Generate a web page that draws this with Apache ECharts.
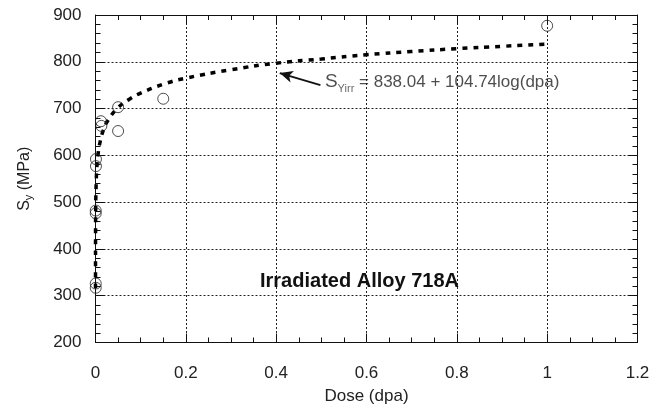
<!DOCTYPE html>
<html>
<head>
<meta charset="utf-8">
<script src="https://cdn.jsdelivr.net/npm/echarts@6/dist/echarts.min.js"></script>
<style>
  html, body { margin: 0; padding: 0; background: #fff; }
  #chart { width: 664px; height: 406px; }
</style>
</head>
<body>
<div id="chart"></div>
<script>
// measured points, Sy (MPa) against dose (dpa)
var doseData = [1.0, 0.15, 0.05, 0.05, 0.012, 0.013, 0.001, 0.001, 0.0005, 0.0005, 0.0005, 0.0005];
var syData = [877, 721, 703, 652, 673, 663, 592, 577, 482, 476, 326, 317];

// dotted fit curve
var doseFit = [0.00001, 0.00003, 0.0001, 0.0003, 0.001, 0.003, 0.006, 0.01, 0.017, 0.027,
  0.05, 0.075, 0.1, 0.15, 0.2, 0.3, 0.4, 0.5, 0.6, 0.7, 0.8, 0.9, 1.0];
var syFit = [316, 364, 420, 470, 522, 574, 605, 628, 653, 674,
  702, 720, 733, 752, 765, 783, 797, 806, 815, 822, 828, 833, 838];

// annotation anchors (data coords)
var eqAnchor = [0.508, 757];
var arrowFrom = [0.498, 750];
var arrowTo = [0.408, 776];

var FONT = '"Liberation Sans", Arial, sans-serif';

function zip(a, b) {
  var out = [];
  for (var i = 0; i < a.length; i++) out.push([a[i], b[i]]);
  return out;
}

var chart = echarts.init(document.getElementById('chart'));

var gridLine = { color: '#222', type: [2, 2], width: 1 };

function xAx(pos, labels) {
  return {
    type: 'value', position: pos, min: 0, max: 1.2, interval: 0.2,
    axisLine: { show: true, onZero: false, lineStyle: { color: '#111', width: 1 } },
    axisTick: { show: true, inside: true, length: 9, lineStyle: { color: '#111' } },
    minorTick: { show: true, splitNumber: 4, length: 5, lineStyle: { color: '#111' } },
    axisLabel: { show: labels, margin: 22, fontSize: 17, color: '#222', fontFamily: FONT },
    splitLine: { show: labels, lineStyle: gridLine },
    name: labels ? 'Dose (dpa)' : '', nameLocation: 'middle', nameGap: 45,
    nameTextStyle: { fontSize: 17, color: '#222', fontFamily: FONT }
  };
}

function yAx(pos, labels) {
  return {
    type: 'value', position: pos, min: 200, max: 900, interval: 100,
    axisLine: { show: true, onZero: false, lineStyle: { color: '#111', width: 1 } },
    axisTick: { show: true, inside: true, length: 9, lineStyle: { color: '#111' } },
    minorTick: { show: true, splitNumber: 5, length: 5, lineStyle: { color: '#111' } },
    axisLabel: { show: labels, margin: 14, fontSize: 17, color: '#222', fontFamily: FONT },
    splitLine: { show: labels, lineStyle: gridLine },
    name: labels ? '{a|S}{b|y}{a| (MPa)}' : '', nameLocation: 'middle', nameGap: 61,
    nameTextStyle: {
      fontFamily: FONT, color: '#222',
      rich: {
        a: { fontSize: 16, fontFamily: FONT, color: '#222' },
        b: { fontSize: 11, fontFamily: FONT, color: '#222', padding: [9, 0, 0, 0] }
      }
    }
  };
}

chart.setOption({
  animation: false,
  backgroundColor: '#fff',
  title: {
    text: 'Irradiated Alloy 718A', left: 255, top: 266,
    textStyle: { fontSize: 20, fontWeight: 'bold', color: '#111', fontFamily: FONT }
  },
  grid: {
    left: 95.5, right: 26.5, top: 15, bottom: 63.5,
    containLabel: false, outerBoundsMode: 'none'
  },
  xAxis: [xAx('bottom', true), xAx('top', false)],
  yAxis: [yAx('left', true), yAx('right', false)],
  series: [
    {
      type: 'line',
      data: zip(doseFit, syFit),
      showSymbol: false,
      smooth: true,
      lineStyle: { color: '#000', width: 3.5, type: [5, 6] },
      z: 3
    },
    {
      type: 'scatter',
      data: zip(doseData, syData),
      symbol: 'circle',
      symbolSize: 11,
      itemStyle: { color: 'rgba(255,255,255,0)', borderColor: '#222', borderWidth: 1 },
      z: 4
    },
    {
      type: 'scatter',
      data: [eqAnchor],
      symbolSize: 0,
      label: {
        show: true, position: 'right', distance: 0,
        formatter: '{s|S}{sub|Yirr}{t| = 838.04 + 104.74log(dpa)}',
        rich: {
          s: { fontSize: 19, color: '#222', fontFamily: FONT },
          sub: { fontSize: 11, color: '#444', fontFamily: FONT, padding: [14, 0, 0, 0] },
          t: { fontSize: 17, color: '#222', fontFamily: FONT }
        }
      },
      markLine: {
        silent: true,
        symbol: ['none', 'arrow'],
        symbolSize: [9, 13],
        label: { show: false },
        lineStyle: { color: '#111', width: 1.8, type: 'solid' },
        data: [[{ coord: arrowFrom }, { coord: arrowTo }]]
      },
      z: 5
    }
  ]
});
</script>
</body>
</html>
